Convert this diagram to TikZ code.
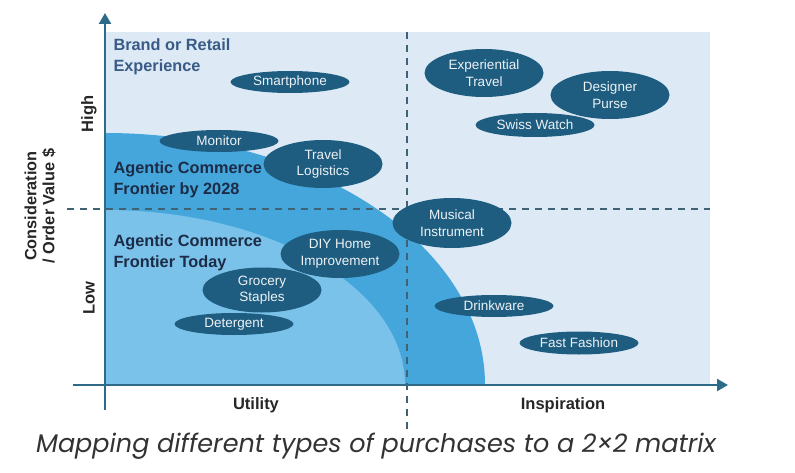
\documentclass[tikz,border=0pt]{standalone}
\usepackage{fontspec}
\setmainfont{Liberation Sans}
\newfontfamily\capfont{Poppins}
\usetikzlibrary{positioning,arrows.meta,shapes.geometric}
\definecolor{bgpale}{HTML}{DDEAF6}
\definecolor{reach}{HTML}{45A6DC}
\definecolor{today}{HTML}{7BC2EA}
\definecolor{itemblue}{HTML}{1E5D80}
\definecolor{axisteal}{HTML}{2D6B88}
\definecolor{navy}{HTML}{1C2C46}
\definecolor{slate}{HTML}{3A5B86}
\definecolor{divgray}{HTML}{3F6275}

\begin{document}
\begin{tikzpicture}[
  x=1pt,y=1pt,
  item/.style={ellipse,fill=itemblue,text=white!92!itemblue,inner sep=0pt,minimum width=119pt,
    minimum height=22pt,align=center,font=\fontsize{13.5}{16.5}\selectfont},
  tall/.style={minimum height=48pt},
  zone/.style={anchor=west,align=left,font=\fontsize{16.3}{21.5}\selectfont\bfseries},
  axislbl/.style={font=\fontsize{16.5}{18}\selectfont\bfseries,text=black!85},
  divider/.style={draw=divgray,line width=1.8pt,dash pattern=on 7pt off 6pt},
  axisline/.style={draw=axisteal,line width=2.4pt}
]
\useasboundingbox (0,0) rectangle (795,472);

% quadrant backdrop and frontiers
\fill[bgpale] (105,87) rectangle (710,440);
\fill[reach] (105,87) -- (485,87) arc[start angle=0,end angle=90,x radius=380,y radius=252] -- cycle;
\fill[today] (105,87) -- (405,87) arc[start angle=0,end angle=90,x radius=300,y radius=175] -- cycle;

\coordinate (midl) at (67,263);
\coordinate (midr) at (710,263);
\coordinate (midt) at (407,440);
\coordinate (midb) at (407,42);
\draw[divider] (midl) -- (midr);
\draw[divider] (midt) -- (midb);

% axes
\coordinate (org) at (105,87);
\coordinate (ybot) at (105,62);
\coordinate (ytop) at (105,459);
\coordinate (xlft) at (73,87);
\coordinate (xrgt) at (728,87);
\draw[axisline,-{Triangle[length=11pt,width=12pt]}] (ybot) -- (ytop);
\draw[axisline,-{Triangle[length=11pt,width=12pt]}] (xlft) -- (xrgt);

% zone titles
\node[zone,text=slate] (brand) at (110,415) {Brand or Retail\\Experience};
\node[zone,text=navy] (by2028) at (110,292) {Agentic Commerce\\Frontier by 2028};
\node[zone,text=navy] (now) at (110,219) {Agentic Commerce\\Frontier Today};

% purchases
\node[item] (phone) at (290,390) {Smartphone};
\node[item] (monitor) at (219,331) {Monitor};
\node[item,tall] (travel) at (323,308) {Travel\\Logistics};
\node[item,tall] (exptravel) at (484,399) {Experiential\\Travel};
\node[item,tall] (purse) at (610,377) {Designer\\Purse};
\node[item,minimum height=24pt] (watch) at (535,347) {Swiss Watch};
\node[item,tall,minimum height=50pt] (music) at (452,249) {Musical\\Instrument};
\node[item,tall] (diy) at (340,218) {DIY Home\\Improvement};
\node[item,minimum height=45pt] (grocery) at (262,182) {Grocery\\Staples};
\node[item] (detergent) at (234,148) {Detergent};
\node[item] (drink) at (494,166) {Drinkware};
\node[item,minimum height=23pt] (fashion) at (579,129) {Fast Fashion};

% axis labels
\node[axislbl,rotate=90] (high) at (89,358) {High};
\node[axislbl,rotate=90] (low) at (89,174) {Low};
\node[axislbl,rotate=90,align=center,font=\fontsize{16.3}{18}\selectfont\bfseries] (value) at (40,266) {Consideration\\/ Order Value \$};
\node[axislbl] (utility) at (256,67) {Utility};
\node[axislbl] (inspire) at (563,67) {Inspiration};

\node[font=\capfont\itshape\fontsize{25.5}{28}\selectfont,text=black!80] (caption) at (376,26) {Mapping different types of purchases to a 2×2 matrix};
\end{tikzpicture}
\end{document}
